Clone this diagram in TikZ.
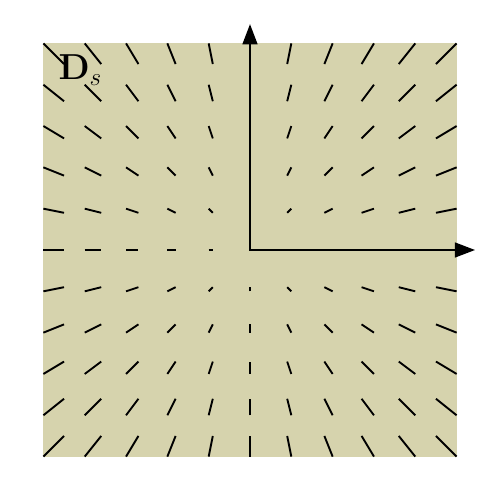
\documentclass[tikz,border=0pt]{standalone}
\usepackage{amsmath}
\usetikzlibrary{arrows.meta}
\definecolor{fieldbg}{RGB}{214,211,173}
\begin{document}
\begin{tikzpicture}[line cap=butt, line join=miter, >={Triangle[length=14pt,width=10pt]}]
			% Fix the frame so that the margins match
			\useasboundingbox (-6.05,-6.05) rectangle (6.05,6.05);
			
			% Shaded region
			\fill[fieldbg] (-5,-5) rectangle (5,5);
			
			% Field directions (radial, towards the origin)
			\foreach \x in {-5,...,5}
				\foreach \y in {-5,...,5}
					\draw[line width=1.3pt] (\x,\y) -- ({0.9*\x},{0.9*\y});
			
			% Axes
			\coordinate (O) at (0,0);
			\coordinate (X) at (5.45,0);
			\coordinate (Y) at (0,5.47);
			\draw[line width=2pt, <->] (Y) -- (O) -- (X);
			
			% Label
			\node[anchor=base west, inner sep=0] (Ds) at (-4.64,4.12) {\fontsize{25}{30}\selectfont$\mathbf{D}_s$};
			
		\end{tikzpicture}
\end{document}
